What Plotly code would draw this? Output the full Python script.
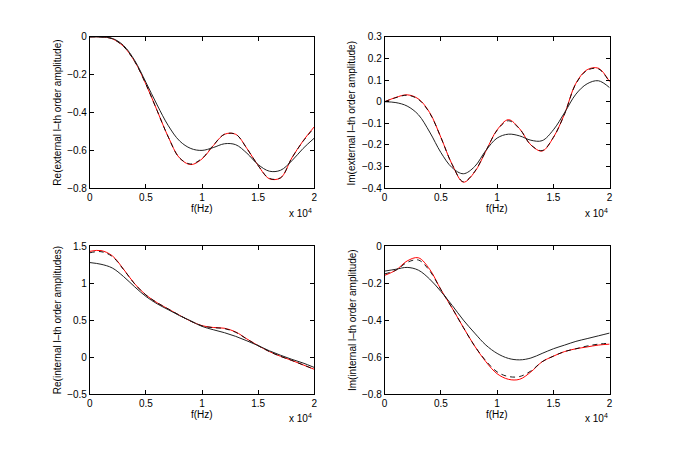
import plotly.graph_objects as go

freq = [0, 1000, 2000, 3000, 4000, 5000, 6000, 7000, 8000, 9000, 10000,
        11000, 12000, 13000, 14000, 15000, 16000, 17000, 18000, 19000, 20000]

# Panel 1: Re(external)
re_ext_exact = [0, 0.0, -0.01, -0.05, -0.13, -0.25, -0.39, -0.53, -0.64, -0.675, -0.645,
                -0.575, -0.515, -0.515, -0.59, -0.68, -0.75, -0.745, -0.64, -0.55, -0.475]
re_ext_dash = [0, 0.0, -0.01, -0.05, -0.13, -0.25, -0.39, -0.53, -0.64, -0.672, -0.642,
               -0.573, -0.515, -0.515, -0.59, -0.68, -0.748, -0.745, -0.64, -0.552, -0.48]
re_ext_appr = [0, -0.001, -0.008, -0.045, -0.125, -0.24, -0.36, -0.47, -0.55, -0.59, -0.6,
               -0.585, -0.565, -0.57, -0.615, -0.675, -0.71, -0.705, -0.655, -0.59, -0.535]

# Panel 2: Im(external)
im_ext_exact = [0, 0.02, 0.032, 0.013, -0.05, -0.165, -0.29, -0.372, -0.325, -0.228, -0.13,
                -0.083, -0.125, -0.2, -0.228, -0.165, -0.055, 0.085, 0.148, 0.155, 0.092]
im_ext_dash = [0, 0.019, 0.03, 0.011, -0.052, -0.165, -0.29, -0.37, -0.323, -0.228, -0.132,
               -0.088, -0.126, -0.2, -0.226, -0.165, -0.056, 0.083, 0.145, 0.152, 0.09]
im_ext_appr = [0, -0.004, -0.02, -0.06, -0.14, -0.235, -0.305, -0.333, -0.3, -0.225, -0.168,
               -0.15, -0.158, -0.178, -0.18, -0.13, -0.05, 0.035, 0.083, 0.097, 0.065]

# Panel 3: Re(internal)
re_int_exact = [1.43, 1.44, 1.37, 1.19, 0.99, 0.84, 0.735, 0.65, 0.565, 0.485, 0.425,
                0.4, 0.39, 0.34, 0.245, 0.155, 0.075, 0.01, -0.045, -0.105, -0.165]
re_int_dash = [1.41, 1.425, 1.36, 1.185, 0.99, 0.84, 0.735, 0.65, 0.565, 0.485, 0.422,
               0.398, 0.385, 0.335, 0.243, 0.155, 0.075, 0.01, -0.045, -0.105, -0.165]
re_int_appr = [1.278, 1.255, 1.205, 1.09, 0.95, 0.82, 0.72, 0.64, 0.56, 0.49, 0.415,
               0.37, 0.33, 0.28, 0.22, 0.155, 0.085, 0.025, -0.03, -0.08, -0.14]

# Panel 4: Im(internal)
im_int_exact = [-0.158, -0.13, -0.08, -0.063, -0.125, -0.235, -0.335, -0.44, -0.54, -0.625, -0.69,
                -0.72, -0.72, -0.68, -0.625, -0.595, -0.57, -0.555, -0.545, -0.535, -0.53]
im_int_dash = [-0.15, -0.13, -0.088, -0.075, -0.133, -0.235, -0.335, -0.44, -0.54, -0.62, -0.68,
               -0.705, -0.705, -0.675, -0.625, -0.595, -0.57, -0.555, -0.54, -0.53, -0.525]
im_int_appr = [-0.135, -0.125, -0.115, -0.13, -0.178, -0.245, -0.32, -0.4, -0.47, -0.535, -0.58,
               -0.607, -0.615, -0.605, -0.58, -0.555, -0.535, -0.515, -0.5, -0.485, -0.47]

ylabels = ["Re(external l\u2013th order amplitude)", "Im(external l\u2013th order amplitude)",
           "Re(internal l\u2013th order amplitudes)", "Im(internal l\u2013th order amplitude)"]
xlabel = "f(Hz)"
yranges = [[-0.8, 0], [-0.4, 0.3], [-0.5, 1.5], [-0.8, 0]]
ydticks = [0.2, 0.1, 0.5, 0.2]
xticks = [0, 5000, 10000, 15000, 20000]
xticktext = ["0", "0.5", "1", "1.5", "2"]

panels = [(re_ext_exact, re_ext_dash, re_ext_appr),
          (im_ext_exact, im_ext_dash, im_ext_appr),
          (re_int_exact, re_int_dash, re_int_appr),
          (im_int_exact, im_int_dash, im_int_appr)]

W, H = 675, 450
OFF = 8  # page body margin
xdoms = [[(87.5 - OFF) / W, (314 - OFF) / W], [(385 - OFF) / W, (612 - OFF) / W]]
ydoms = [[1 - (187 - OFF) / H, 1 - (31.5 - OFF) / H], [1 - (398.5 - OFF) / H, 1 - (246.5 - OFF) / H]]

fig = go.Figure()
font = dict(family="Liberation Sans, Arial, sans-serif", size=10, color="black")
layout = dict(width=W, height=H, margin=dict(l=0, r=0, t=0, b=0),
              paper_bgcolor="white", plot_bgcolor="white", showlegend=False, font=font)
annotations = []
for i, (ex, da, ap) in enumerate(panels):
    r, c = divmod(i, 2)
    n = "" if i == 0 else str(i + 1)
    xa, ya = "x" + n, "y" + n
    fig.add_trace(go.Scatter(x=freq, y=ex, mode="lines", line=dict(color="red", width=1, shape="spline"),
                             xaxis=xa, yaxis=ya))
    fig.add_trace(go.Scatter(x=freq, y=da, mode="lines",
                             line=dict(color="black", width=0.9, dash="5px,4px", shape="spline"),
                             xaxis=xa, yaxis=ya))
    fig.add_trace(go.Scatter(x=freq, y=ap, mode="lines", line=dict(color="#222222", width=1, shape="spline"),
                             xaxis=xa, yaxis=ya))
    axcommon = dict(showgrid=False, zeroline=False, showline=True, linecolor="black", linewidth=0.8,
                    mirror="ticks", ticks="inside", ticklen=4, tickcolor="black", tickwidth=0.8,
                    tickfont=dict(size=10, color="black"))
    layout["xaxis" + n] = dict(domain=xdoms[c], range=[0, 20000], tickvals=xticks, ticktext=xticktext,
                               anchor=ya, **axcommon)
    layout["yaxis" + n] = dict(domain=ydoms[r], range=yranges[i], dtick=ydticks[i], anchor=xa,
                               **axcommon)
    ybot, ytop = ydoms[r]
    xl, xr = xdoms[c]
    annotations.append(dict(text="x 10<sup>4</sup>", xref="paper", yref="paper", x=xr,
                            y=ybot - 25 / H, xanchor="right", yanchor="middle", showarrow=False,
                            font=dict(size=10, color="black")))
    annotations.append(dict(text=xlabel, xref="paper", yref="paper", x=(xl + xr) / 2,
                            y=ybot - 21 / H, xanchor="center", yanchor="middle", showarrow=False,
                            font=dict(size=10, color="black")))
    annotations.append(dict(text=ylabels[i], xref="paper", yref="paper", x=xl - 33 / W,
                            y=(ybot + ytop) / 2, xanchor="center", yanchor="middle", showarrow=False,
                            textangle=-90, font=dict(size=10, color="black")))
layout["annotations"] = annotations
fig.update_layout(**layout)
fig.write_html("out.html")
